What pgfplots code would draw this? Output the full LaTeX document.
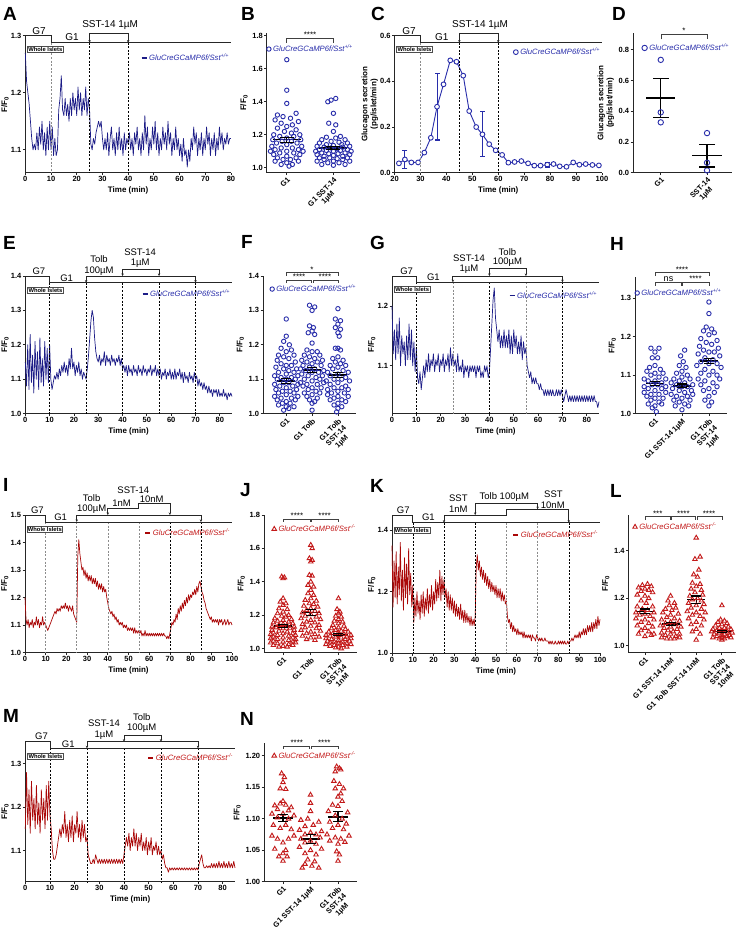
\documentclass[border=0pt]{standalone}
\usepackage{pgfplots}
\pgfplotsset{compat=1.18}
\usepackage{fontspec}
\setmainfont{Liberation Sans}
\usetikzlibrary{arrows.meta}
\definecolor{navy}{RGB}{28,28,135}
\definecolor{navyM}{RGB}{40,45,170}
\definecolor{dred}{RGB}{170,8,8}
\definecolor{lred}{RGB}{195,25,25}
\tikzset{
 stim/.style={line width=0.8pt, black!85},
 arr/.style={<->, >={Stealth[length=2.6pt,width=2.4pt]}},
 dsh/.style={line width=0.6pt, dash pattern=on 2pt off 1.6pt, black},
 dshg/.style={line width=0.6pt, dash pattern=on 2pt off 1.6pt, black!45},
 lab/.style={font=\fontsize{10}{11}\selectfont, inner sep=0pt},
 labs/.style={font=\fontsize{9.5}{10}\selectfont, inner sep=0pt},
 wi/.style={draw=black!70, line width=0.6pt, font=\bfseries\fontsize{5.8}{6}\selectfont, inner sep=1pt, anchor=north west, fill=white},
 brk/.style={line width=0.6pt, black!75},
 st/.style={font=\fontsize{8}{8}\selectfont, inner sep=0.4pt, anchor=south},
 pl/.style={font=\bfseries\fontsize{19}{19}\selectfont, inner sep=0pt, anchor=base west},
}
\pgfplotsset{
 gp/.style={scale only axis, anchor=south west, clip=false,
   axis lines=left, axis line style={-, line width=0.8pt, black!85},
   tick align=outside, tick pos=left, major tick length=2.5pt,
   tick style={black!85, line width=0.8pt},
   ticklabel style={font=\bfseries\fontsize{7.5}{8}\selectfont, inner sep=1.2pt},
   /pgf/number format/assume math mode=true,
   label style={font=\bfseries\fontsize{8}{9}\selectfont},
   legend cell align=left,
   legend style={draw=none, fill=none, inner sep=0pt, outer sep=0pt,
     font=\itshape\fontsize{7.7}{8}\selectfont}},
 yp1/.style={yticklabel style={/pgf/number format/.cd, fixed, fixed zerofill, precision=1}},
 trace/.style={gp, yp1, xlabel={Time (min)}, ylabel={F/F\textsubscript{0}},
   ylabel style={yshift=-2.5pt},
   legend image code/.code={\draw[##1, line width=1.3pt] (0pt,0pt) -- (5pt,0pt);}},
 swarm/.style={gp, ylabel={F/F\textsubscript{0}},
   xticklabel style={rotate=45, anchor=north east, align=center}},
 mkimg/.style={legend image code/.code={\draw[##1] plot coordinates {(2.5pt,0pt)};}},
 bpts/.style={only marks, mark=o, mark size=2.2pt, navyM, line width=0.9pt, mkimg},
 rpts/.style={only marks, mark=triangle, mark size=2.6pt, lred, line width=0.9pt, mkimg},
 meanl/.style={black, line width=1.5pt, forget plot},
 seml/.style={black, line width=1.1pt, mark=-, mark size=5pt, mark options={solid, line width=1.1pt}, forget plot},
 trb/.style={navy, line width=0.7pt, line join=round},
 trr/.style={dred, line width=0.7pt, line join=round},
}
\begin{document}
\begin{tikzpicture}
\fill[white] (0pt,0pt) rectangle (740pt,-931pt);
\useasboundingbox (0pt,0pt) rectangle (740pt,-931pt);

% ---------------- A ----------------
\begin{axis}[trace, at={(25.3pt,-172.7pt)}, width=205.7pt, height=137pt,
 xmin=0, xmax=80, ymin=1.06, ymax=1.3, xtick={0,10,...,80}, ytick={1.1,1.2,1.3},
 legend style={at={(1,0.837)}, anchor=east, text=navyM}]
\addplot[trb] table[x expr=\coordindex*0.5, y index=0, header=false, row sep=\\]{
1.27\\1.22\\1.20\\1.18\\1.15\\1.12\\1.10\\1.11\\1.10\\1.13\\
1.10\\1.14\\1.11\\1.15\\1.10\\1.13\\1.09\\1.14\\1.10\\1.15\\
1.10\\1.14\\1.09\\1.12\\1.09\\1.10\\1.17\\1.19\\1.23\\1.17\\
1.16\\1.19\\1.16\\1.18\\1.15\\1.19\\1.16\\1.20\\1.17\\1.19\\
1.16\\1.21\\1.17\\1.20\\1.16\\1.19\\1.17\\1.21\\1.16\\1.19\\
1.17\\1.11\\1.10\\1.12\\1.11\\1.13\\1.14\\1.15\\1.14\\1.15\\
1.12\\1.10\\1.12\\1.10\\1.13\\1.09\\1.12\\1.14\\1.10\\1.12\\
1.09\\1.13\\1.10\\1.14\\1.10\\1.12\\1.09\\1.13\\1.10\\1.12\\
1.11\\1.13\\1.10\\1.12\\1.09\\1.13\\1.11\\1.14\\1.10\\1.12\\
1.09\\1.13\\1.10\\1.16\\1.11\\1.14\\1.09\\1.12\\1.10\\1.14\\
1.11\\1.15\\1.10\\1.13\\1.09\\1.12\\1.10\\1.14\\1.11\\1.13\\
1.10\\1.15\\1.11\\1.13\\1.09\\1.12\\1.10\\1.14\\1.10\\1.12\\
1.09\\1.11\\1.08\\1.12\\1.09\\1.10\\1.07\\1.10\\1.08\\1.12\\
1.10\\1.14\\1.11\\1.13\\1.09\\1.12\\1.10\\1.13\\1.09\\1.12\\
1.10\\1.14\\1.11\\1.13\\1.09\\1.12\\1.10\\1.13\\1.09\\1.12\\
1.10\\1.14\\1.11\\1.13\\1.10\\1.12\\1.11\\1.13\\1.11\\1.12\\
1.12\\
};
\addlegendentry{GluCreGCaMP6f/Sst\textsuperscript{+/+}}
\end{axis}
\begin{scope}[shift={(25.3pt,-35.7pt)}, x=2.571pt, y=1pt]
 \draw[dshg] (10,-7) -- (10,-137);
 \draw[dsh] (25,-7) -- (25,-137);
 \draw[dsh] (40,-7) -- (40,-137);
 \draw[stim] (0,0) -- (10,0) -- (10,-7) -- (80,-7);
 \draw[stim, arr] (25,-7) -- (25,2.4) -- (40,2.4) -- (40,-7);
 \node[lab] at (5.3,4.7) {G7};
 \node[lab] at (18.2,-1.5) {G1};
 \node[lab] at (33,10.7) {SST-14 1µM};
 \node[wi] at (0.7,-10.3) {Whole Islets};
\end{scope}

% ---------------- B ----------------
\begin{axis}[swarm, at={(266.7pt,-172.7pt)}, width=93.3pt, height=139.4pt,
 xmin=-0.43, xmax=1.57, ymin=0.97, ymax=1.815,
 xtick={0,1}, xticklabels={G1,{G1 SST-14\\1µM}},
 ytick={1.0,1.2,1.4,1.6,1.8}, yp1,
 legend style={at={(0,0.887)}, anchor=west, text=navyM}]
\addplot[bpts] coordinates {(0,1.655) (0,1.47) (0,1.39) (0.2,1.33) (-0.2,1.32) (-0.08,1.31) (0.08,1.30) (-0.25,1.29) (0.25,1.28) (-0.12,1.27) (0.12,1.26) (0,1.25) (-0.2,1.24) (0.2,1.23) (-0.05,1.22) (0.1,1.21) (-0.28,1.20) (0.28,1.20) (-0.15,1.19) (0.15,1.19) (0,1.18) (-0.3,1.17) (0.3,1.17) (-0.1,1.16) (0.1,1.16) (-0.22,1.15) (0.22,1.15) (0,1.14) (-0.32,1.13) (0.32,1.13) (-0.12,1.12) (0.12,1.12) (-0.25,1.11) (0.25,1.11) (0,1.10) (-0.35,1.10) (0.35,1.10) (-0.15,1.09) (0.15,1.09) (-0.28,1.08) (0.28,1.08) (0,1.07) (-0.2,1.06) (0.2,1.06) (-0.08,1.05) (0.08,1.05) (-0.25,1.04) (0.25,1.04) (0,1.03) (-0.12,1.02) (0.12,1.02) (0.05,1.01)};
\addlegendentry{GluCreGCaMP6f/Sst\textsuperscript{+/+}}
\addplot[bpts, forget plot] coordinates {(1.05,1.42) (0.95,1.41) (0.88,1.40) (1,1.33) (0.9,1.27) (1.05,1.26) (1,1.22) (1.15,1.19) (0.85,1.185) (1.05,1.18) (0.75,1.17) (1.25,1.17) (0.95,1.16) (1.12,1.155) (0.7,1.15) (1.3,1.15) (0.85,1.14) (1.18,1.14) (1,1.135) (0.65,1.13) (1.35,1.13) (0.8,1.125) (1.2,1.125) (0.95,1.12) (1.08,1.115) (0.7,1.11) (1.3,1.11) (0.85,1.105) (1.15,1.105) (1,1.10) (0.62,1.10) (1.38,1.10) (0.75,1.09) (1.25,1.09) (0.9,1.085) (1.1,1.085) (0.65,1.08) (1.35,1.08) (1,1.075) (0.8,1.07) (1.2,1.07) (0.7,1.06) (1.3,1.06) (0.92,1.06) (1.08,1.055) (0.8,1.05) (1.2,1.05) (0.65,1.04) (1.35,1.04) (1,1.04) (0.88,1.03) (1.12,1.03) (0.75,1.02) (1.25,1.02) (1,1.015)};
\addplot[meanl] coordinates {(-0.3,1.17) (0.3,1.17)};
\addplot[seml, mark size=7pt] coordinates {(0,1.155) (0,1.185)};
\addplot[meanl] coordinates {(0.7,1.12) (1.3,1.12)};
\addplot[seml, mark size=7pt] coordinates {(1,1.11) (1,1.13)};
\end{axis}
\begin{scope}[shift={(286.7pt,-33.3pt)}, x=46.6pt, y=1pt]
 \draw[brk] (0,-9.7) -- (0,-4.7) -- (1,-4.7) -- (1,-9.7);
 \node[st] at (0.5,-4.7) {****};
\end{scope}

% ---------------- C ----------------
\begin{axis}[trace, at={(394.5pt,-172.7pt)}, width=207.5pt, height=137pt,
 xmin=20, xmax=100, ymin=0, ymax=0.6, xtick={20,30,...,100}, ytick={0,0.2,0.4,0.6},
 ylabel={Glucagon secretion\\(pg/islet/min)}, ylabel style={align=center},
 legend style={at={(1,0.88)}, anchor=east, text=navyM}]
\addplot[navyM, line width=0.9pt, mark=*, mark size=2.4pt, mark options={fill=white, draw=navyM, line width=0.9pt}, mkimg] coordinates {
(21.7,0.041) (24,0.058) (26.5,0.045) (29.1,0.045) (31.5,0.088) (34,0.153) (36.4,0.289) (38.9,0.387) (41.5,0.492) (43.9,0.486) (46.5,0.425) (48.8,0.27) (51.5,0.2) (53.9,0.168) (56.5,0.125) (59,0.098) (61.5,0.078) (63.9,0.044) (66.3,0.047) (68.9,0.051) (71.5,0.041) (73.9,0.031) (76.3,0.031) (78.9,0.035) (81.3,0.038) (83.7,0.028) (86.3,0.026) (88.9,0.045) (91.3,0.035) (93.7,0.038) (96.3,0.034) (98.8,0.032)};
\addlegendentry{GluCreGCaMP6f/Sst\textsuperscript{+/+}}
\addplot[seml, navyM, line width=0.9pt, mark size=2.5pt] coordinates {(24,0.019) (24,0.096)};
\addplot[seml, navyM, line width=0.9pt, mark size=2.5pt] coordinates {(36.4,0.143) (36.4,0.435)};
\addplot[seml, navyM, line width=0.9pt, mark size=2.5pt] coordinates {(53.9,0.07) (53.9,0.267)};
\addplot[seml, navyM, line width=0.9pt, mark size=2.5pt] coordinates {(78.9,0.025) (78.9,0.045)};
\end{axis}
\begin{scope}[shift={(342.62pt,-35.7pt)}, x=2.594pt, y=1pt]
 \draw[dshg] (30,-7) -- (30,-137);
 \draw[dsh] (45,-7) -- (45,-137);
 \draw[dsh] (60,-7) -- (60,-137);
 \draw[stim] (20,0) -- (30,0) -- (30,-7) -- (100,-7);
 \draw[stim, arr] (45,-7) -- (45,2.4) -- (60,2.4) -- (60,-7);
 \node[lab] at (25.6,4.7) {G7};
 \node[lab] at (38.2,-1.5) {G1};
 \node[lab] at (53,10.7) {SST-14 1µM};
 \node[wi] at (20.7,-10.3) {Whole Islets};
\end{scope}

% ---------------- D ----------------
\begin{axis}[swarm, at={(633pt,-172.7pt)}, width=99pt, height=139.4pt,
 xmin=-0.6, xmax=1.54, ymin=0, ymax=0.908,
 xtick={0,1}, xticklabels={G1,{SST-14\\1µM}},
 ytick={0,0.2,0.4,0.6,0.8}, yp1,
 ylabel={Glucagon secretion\\(pg/islet/min)}, ylabel style={align=center},
 legend style={at={(0.09,0.895)}, anchor=west, text=navyM}]
\addplot[bpts, mark size=2.7pt] coordinates {(0,0.735) (0,0.393) (0,0.328)};
\addlegendentry{GluCreGCaMP6f/Sst\textsuperscript{+/+}}
\addplot[bpts, mark size=2.7pt, forget plot] coordinates {(1,0.258) (1,0.065) (1,0.015)};
\addplot[meanl] coordinates {(-0.315,0.487) (0.315,0.487)};
\addplot[seml, mark size=8pt] coordinates {(0,0.36) (0,0.614)};
\addplot[meanl] coordinates {(0.685,0.112) (1.315,0.112)};
\addplot[seml, mark size=8pt] coordinates {(1,0.037) (1,0.185)};
\end{axis}
\begin{scope}[shift={(661pt,-33.3pt)}, x=46pt, y=1pt]
 \draw[brk] (0,-6) -- (0,-1) -- (1,-1) -- (1,-6);
 \node[st] at (0.5,-1) {*};
\end{scope}

% ---------------- E ----------------
\begin{axis}[trace, at={(25.3pt,-413.6pt)}, width=206.7pt, height=137.6pt,
 xmin=0, xmax=85, ymin=1.0, ymax=1.4, xtick={0,10,...,80}, ytick={1.0,1.1,1.2,1.3,1.4},
 legend style={at={(1,0.87)}, anchor=east, text=navyM}]
\addplot[trb] table[x expr=\coordindex*0.5, y index=0, header=false, row sep=\\]{
1.15\\1.08\\1.20\\1.07\\1.23\\1.09\\1.17\\1.06\\1.21\\1.10\\
1.18\\1.07\\1.22\\1.09\\1.16\\1.08\\1.21\\1.10\\1.19\\1.09\\
1.20\\1.10\\1.07\\1.09\\1.11\\1.10\\1.12\\1.10\\1.13\\1.11\\
1.14\\1.12\\1.15\\1.12\\1.14\\1.11\\1.16\\1.13\\1.19\\1.13\\
1.15\\1.11\\1.14\\1.12\\1.15\\1.11\\1.13\\1.10\\1.12\\1.11\\
1.10\\1.13\\1.17\\1.22\\1.27\\1.30\\1.28\\1.22\\1.18\\1.16\\
1.15\\1.17\\1.14\\1.16\\1.15\\1.18\\1.14\\1.17\\1.15\\1.16\\
1.14\\1.17\\1.15\\1.16\\1.14\\1.16\\1.15\\1.17\\1.14\\1.16\\
1.13\\1.14\\1.12\\1.14\\1.11\\1.14\\1.12\\1.13\\1.11\\1.14\\
1.12\\1.13\\1.11\\1.14\\1.12\\1.13\\1.11\\1.14\\1.12\\1.13\\
1.11\\1.13\\1.12\\1.14\\1.11\\1.13\\1.12\\1.14\\1.11\\1.13\\
1.11\\1.13\\1.10\\1.12\\1.11\\1.13\\1.10\\1.12\\1.11\\1.13\\
1.10\\1.12\\1.10\\1.13\\1.10\\1.12\\1.11\\1.13\\1.10\\1.12\\
1.09\\1.12\\1.10\\1.11\\1.09\\1.12\\1.10\\1.11\\1.09\\1.12\\
1.10\\1.11\\1.08\\1.10\\1.08\\1.09\\1.07\\1.09\\1.07\\1.08\\
1.06\\1.08\\1.06\\1.07\\1.05\\1.07\\1.06\\1.07\\1.05\\1.07\\
1.05\\1.06\\1.05\\1.07\\1.05\\1.06\\1.04\\1.06\\1.05\\1.06\\
1.05\\
};
\addlegendentry{GluCreGCaMP6f/Sst\textsuperscript{+/+}}
\end{axis}
\begin{scope}[shift={(25.3pt,-276pt)}, x=2.432pt, y=1pt]
 \foreach \t in {10,25,40,55,70} {\draw[dsh] (\t,-6.7) -- (\t,-137.6);}
 \draw[stim] (0,0) -- (10,0) -- (10,-6.7) -- (85,-6.7);
 \draw[stim, arr] (25,-6.7) -- (25,0) -- (70,0) -- (70,-6.7);
 \draw[stim, arr] (40,0) -- (40,6.7) -- (55,6.7) -- (55,0);
 \node[labs] at (5.6,5) {G7};
 \node[labs] at (17,-2) {G1};
 \node[labs] at (30.3,17) {Tolb};
 \node[labs] at (30.3,5.3) {100µM};
 \node[labs] at (47.2,24) {SST-14};
 \node[labs] at (47.2,13) {1µM};
 \node[wi] at (0.8,-10.5) {Whole Islets};
\end{scope}

% ---------------- F ----------------
\begin{axis}[swarm, at={(263pt,-413.6pt)}, width=93pt, height=137.6pt,
 xmin=-0.9, xmax=2.7, ymin=1.0, ymax=1.4,
 xtick={0,1,2}, xticklabels={G1,G1 Tolb,{G1 Tolb\\SST-14\\1µM}},
 ytick={1.0,1.1,1.2,1.3,1.4}, yp1,
 legend style={at={(0.075,0.905)}, anchor=west, text=navyM}]
\addplot[bpts] coordinates {(0,1.275) (0,1.225) (-0.1,1.21) (0.12,1.20) (-0.2,1.19) (0.2,1.185) (0,1.18) (-0.3,1.17) (0.3,1.17) (-0.1,1.165) (0.1,1.16) (-0.35,1.155) (0.35,1.15) (-0.2,1.145) (0.2,1.14) (0,1.14) (-0.4,1.135) (0.4,1.13) (-0.1,1.13) (0.1,1.125) (-0.3,1.12) (0.3,1.12) (0,1.115) (-0.45,1.11) (0.45,1.11) (-0.2,1.105) (0.2,1.105) (-0.35,1.10) (0.35,1.10) (0,1.10) (-0.1,1.09) (0.1,1.09) (-0.45,1.085) (0.45,1.085) (-0.25,1.08) (0.25,1.08) (0,1.075) (-0.4,1.07) (0.4,1.07) (-0.15,1.065) (0.15,1.065) (-0.3,1.06) (0.3,1.06) (0,1.055) (-0.45,1.05) (0.45,1.05) (-0.2,1.045) (0.2,1.045) (-0.35,1.04) (0.35,1.04) (0,1.035) (-0.15,1.03) (0.15,1.03) (-0.3,1.025) (0.3,1.02) (0,1.02) (-0.1,1.01) (0.1,1.015)};
\addlegendentry{GluCreGCaMP6f/Sst\textsuperscript{+/+}}
\addplot[bpts, forget plot] coordinates {(0.9,1.315) (1.1,1.31) (1,1.30) (0.9,1.255) (1.05,1.25) (1,1.24) (0.85,1.235) (1.1,1.23) (1,1.205) (0.8,1.185) (1.2,1.18) (1,1.18) (0.7,1.17) (1.3,1.17) (0.9,1.165) (1.1,1.16) (0.6,1.155) (1.4,1.155) (0.8,1.15) (1.2,1.15) (1,1.145) (0.65,1.14) (1.35,1.14) (0.9,1.135) (1.1,1.13) (0.55,1.13) (1.45,1.125) (0.75,1.125) (1.25,1.12) (1,1.12) (0.6,1.115) (1.4,1.11) (0.85,1.11) (1.15,1.105) (0.7,1.10) (1.3,1.10) (1,1.095) (0.55,1.09) (1.45,1.09) (0.8,1.085) (1.2,1.085) (0.65,1.08) (1.35,1.075) (1,1.075) (0.85,1.07) (1.15,1.065) (0.7,1.06) (1.3,1.06) (1,1.055) (0.8,1.05) (1.2,1.045) (0.9,1.04) (1.1,1.035) (1,1.03) (1,1.01)};
\addplot[bpts, forget plot] coordinates {(2,1.305) (1.9,1.275) (2.1,1.27) (2,1.26) (1.9,1.25) (2.1,1.245) (2,1.235) (2.05,1.225) (2,1.19) (1.9,1.19) (2.1,1.185) (2,1.165) (1.8,1.16) (2.2,1.155) (1.9,1.15) (2.1,1.145) (1.7,1.14) (2.3,1.14) (2,1.135) (1.8,1.13) (2.2,1.125) (1.6,1.12) (2.4,1.12) (2,1.115) (1.7,1.11) (2.3,1.105) (1.85,1.10) (2.15,1.10) (1.55,1.095) (2.45,1.095) (2,1.09) (1.7,1.085) (2.3,1.08) (1.85,1.075) (2.15,1.075) (1.6,1.07) (2.4,1.07) (2,1.065) (1.75,1.06) (2.25,1.06) (1.6,1.055) (2.4,1.05) (2,1.05) (1.85,1.045) (2.15,1.04) (1.7,1.04) (2.3,1.035) (2,1.03) (1.85,1.025) (2.15,1.02) (2,1.015) (1.95,1.005)};
\addplot[meanl] coordinates {(-0.35,1.095) (0.35,1.095)};
\addplot[seml] coordinates {(0,1.088) (0,1.102)};
\addplot[meanl] coordinates {(0.65,1.127) (1.35,1.127)};
\addplot[seml] coordinates {(1,1.119) (1,1.135)};
\addplot[meanl] coordinates {(1.65,1.112) (2.35,1.112)};
\addplot[seml] coordinates {(2,1.104) (2,1.12)};
\end{axis}
\begin{scope}[shift={(286.2pt,-276pt)}, x=25.83pt, y=1pt]
 \draw[brk] (0,0) -- (0,3.3) -- (2,3.3) -- (2,0);
 \node[st] at (1,3.3) {*};
 \draw[brk] (0,-6.7) -- (0,-4) -- (0.97,-4) -- (0.97,-6.7);
 \draw[brk] (1.03,-6.7) -- (1.03,-4) -- (2,-4) -- (2,-6.7);
 \node[st] at (0.5,-4) {****};
 \node[st] at (1.5,-4) {****};
\end{scope}

% ---------------- G ----------------
\begin{axis}[trace, at={(392pt,-413.6pt)}, width=207pt, height=137.6pt,
 xmin=0, xmax=85, ymin=1.02, ymax=1.25, xtick={0,10,...,80}, ytick={1.1,1.2},
 legend style={at={(1,0.857)}, anchor=east, text=navyM}]
\addplot[trb] table[x expr=\coordindex*0.5, y index=0, header=false, row sep=\\]{
1.20\\1.12\\1.16\\1.11\\1.17\\1.12\\1.18\\1.10\\1.15\\1.12\\
1.14\\1.10\\1.15\\1.11\\1.17\\1.11\\1.16\\1.10\\1.14\\1.09\\
1.13\\1.08\\1.07\\1.09\\1.06\\1.08\\1.10\\1.08\\1.11\\1.09\\
1.12\\1.09\\1.11\\1.10\\1.12\\1.09\\1.11\\1.10\\1.12\\1.09\\
1.11\\1.10\\1.12\\1.09\\1.11\\1.10\\1.12\\1.09\\1.13\\1.10\\
1.12\\1.10\\1.11\\1.09\\1.12\\1.09\\1.10\\1.09\\1.11\\1.08\\
1.10\\1.09\\1.10\\1.08\\1.10\\1.09\\1.10\\1.09\\1.10\\1.08\\
1.10\\1.09\\1.10\\1.08\\1.09\\1.08\\1.10\\1.09\\1.10\\1.08\\
1.09\\1.13\\1.17\\1.21\\1.23\\1.18\\1.16\\1.14\\1.16\\1.13\\
1.15\\1.13\\1.16\\1.13\\1.15\\1.13\\1.16\\1.12\\1.15\\1.12\\
1.16\\1.13\\1.15\\1.12\\1.14\\1.12\\1.15\\1.11\\1.14\\1.12\\
1.13\\1.10\\1.09\\1.08\\1.09\\1.07\\1.08\\1.07\\1.08\\1.07\\
1.07\\1.06\\1.07\\1.06\\1.06\\1.05\\1.06\\1.05\\1.06\\1.05\\
1.06\\1.05\\1.06\\1.05\\1.05\\1.06\\1.05\\1.06\\1.05\\1.06\\
1.05\\1.04\\1.05\\1.06\\1.05\\1.04\\1.05\\1.04\\1.05\\1.04\\
1.05\\1.04\\1.05\\1.04\\1.05\\1.04\\1.05\\1.04\\1.05\\1.04\\
1.05\\1.04\\1.05\\1.04\\1.05\\1.04\\1.05\\1.04\\1.04\\1.03\\
1.04\\
};
\addlegendentry{GluCreGCaMP6f/Sst\textsuperscript{+/+}}
\end{axis}
\begin{scope}[shift={(392pt,-276pt)}, x=2.435pt, y=1pt]
 \draw[dsh] (10,-6.3) -- (10,-137.6);
 \draw[dshg] (25,-6.3) -- (25,-137.6);
 \draw[dsh] (40,-6.3) -- (40,-137.6);
 \draw[dshg] (55,-6.3) -- (55,-137.6);
 \draw[dsh] (70,-6.3) -- (70,-137.6);
 \draw[stim] (0,0) -- (10,0) -- (10,-6.3) -- (85,-6.3);
 \draw[stim, arr] (25,-6.3) -- (25,0) -- (70,0) -- (70,-6.3);
 \draw[stim, arr] (40,0) -- (40,7.7) -- (55,7.7) -- (55,0);
 \node[labs] at (6,4.3) {G7};
 \node[labs] at (17,-1.7) {G1};
 \node[labs] at (31.6,17.7) {SST-14};
 \node[labs] at (31.6,6.7) {1µM};
 \node[labs] at (47.4,24.3) {Tolb};
 \node[labs] at (47.4,14.3) {100µM};
 \node[wi] at (0.8,-10) {Whole Islets};
\end{scope}

% ---------------- H ----------------
\begin{axis}[swarm, at={(635pt,-413.6pt)}, width=92pt, height=136.6pt,
 xmin=-0.74, xmax=2.67, ymin=1.0, ymax=1.355,
 xtick={0,1,2}, xticklabels={G1,G1 SST-14 1µM,{G1 Tolb\\SST-14\\1µM}},
 ytick={1.0,1.1,1.2,1.3}, yp1,
 legend style={at={(0,0.883)}, anchor=west, text=navyM}]
\addplot[bpts] coordinates {(-0.15,1.17) (0.15,1.17) (0,1.16) (-0.1,1.145) (0.1,1.145) (0,1.125) (-0.2,1.12) (0.2,1.115) (-0.3,1.11) (0.3,1.105) (0,1.105) (-0.15,1.10) (0.15,1.095) (-0.4,1.09) (0.4,1.09) (0,1.085) (-0.25,1.085) (0.25,1.08) (-0.1,1.075) (0.1,1.075) (-0.4,1.07) (0.4,1.07) (-0.25,1.065) (0.25,1.065) (0,1.06) (-0.4,1.055) (0.4,1.055) (-0.15,1.05) (0.15,1.05) (-0.3,1.045) (0.3,1.04) (0,1.04) (-0.15,1.035) (0.15,1.03) (-0.25,1.025) (0.25,1.025) (0,1.02) (-0.1,1.015) (0.05,1.005)};
\addlegendentry{GluCreGCaMP6f/Sst\textsuperscript{+/+}}
\addplot[bpts, forget plot] coordinates {(1.1,1.165) (0.95,1.15) (1.05,1.135) (0.9,1.125) (1.15,1.12) (1,1.11) (0.8,1.105) (1.2,1.10) (1,1.095) (0.7,1.09) (1.3,1.09) (0.9,1.085) (1.1,1.08) (0.6,1.08) (1.4,1.075) (0.8,1.075) (1.2,1.07) (1,1.07) (0.65,1.065) (1.35,1.06) (0.9,1.06) (1.1,1.055) (0.6,1.05) (1.4,1.05) (0.8,1.045) (1.2,1.045) (1,1.04) (0.7,1.035) (1.3,1.035) (0.9,1.03) (1.1,1.025) (0.75,1.02) (1.25,1.02) (1,1.01)};
\addplot[bpts, forget plot] coordinates {(2,1.29) (2,1.26) (1.9,1.225) (2.1,1.22) (1.8,1.215) (2.2,1.21) (2,1.205) (1.7,1.195) (2.3,1.19) (1.9,1.185) (2.1,1.18) (1.65,1.175) (2.35,1.17) (1.8,1.165) (2.2,1.16) (2,1.16) (1.6,1.155) (2.4,1.15) (1.85,1.145) (2.15,1.14) (1.7,1.135) (2.3,1.13) (2,1.13) (1.55,1.125) (2.45,1.12) (1.85,1.115) (2.15,1.11) (1.7,1.105) (2.3,1.10) (2,1.10) (1.6,1.09) (2.4,1.09) (1.85,1.085) (2.15,1.08) (1.7,1.075) (2.3,1.07) (2,1.065) (1.8,1.06) (2.2,1.055) (2,1.045) (1.85,1.035) (2.1,1.03) (2,1.02)};
\addplot[meanl] coordinates {(-0.33,1.078) (0.33,1.078)};
\addplot[seml] coordinates {(0,1.073) (0,1.083)};
\addplot[meanl] coordinates {(0.67,1.072) (1.33,1.072)};
\addplot[seml] coordinates {(1,1.067) (1,1.077)};
\addplot[meanl] coordinates {(1.67,1.137) (2.33,1.137)};
\addplot[seml] coordinates {(2,1.13) (2,1.144)};
\end{axis}
\begin{scope}[shift={(655pt,-277pt)}, x=26.98pt, y=1pt]
 \draw[brk] (0,1) -- (0,4.3) -- (2,4.3) -- (2,1);
 \node[st] at (1,4.3) {****};
 \draw[brk] (0,-8.7) -- (0,-5.3) -- (0.97,-5.3) -- (0.97,-8.7);
 \draw[brk] (1.03,-8.7) -- (1.03,-5.3) -- (2,-5.3) -- (2,-8.7);
 \node[st, font=\fontsize{9}{9}\selectfont] at (0.5,-5.3) {ns};
 \node[st] at (1.5,-5.3) {****};
\end{scope}

% ---------------- I ----------------
\begin{axis}[trace, at={(25pt,-652.5pt)}, width=207pt, height=137.5pt,
 xmin=0, xmax=100, ymin=1.0, ymax=1.5, xtick={0,10,...,100}, ytick={1.0,1.1,1.2,1.3,1.4,1.5},
 legend style={at={(1,0.87)}, anchor=east, text=lred}]
\addplot[trr] table[x expr=\coordindex*0.5, y index=0, header=false, row sep=\\]{
1.20\\1.12\\1.10\\1.12\\1.09\\1.11\\1.10\\1.12\\1.09\\1.11\\
1.10\\1.13\\1.10\\1.12\\1.09\\1.11\\1.10\\1.13\\1.10\\1.11\\
1.10\\1.09\\1.08\\1.09\\1.10\\1.11\\1.12\\1.13\\1.14\\1.15\\
1.14\\1.16\\1.15\\1.16\\1.15\\1.17\\1.16\\1.17\\1.16\\1.18\\
1.16\\1.17\\1.15\\1.17\\1.16\\1.15\\1.17\\1.14\\1.13\\1.12\\
1.11\\1.35\\1.41\\1.36\\1.33\\1.30\\1.31\\1.28\\1.30\\1.27\\
1.29\\1.26\\1.28\\1.26\\1.28\\1.25\\1.27\\1.25\\1.27\\1.24\\
1.26\\1.23\\1.25\\1.23\\1.25\\1.22\\1.24\\1.22\\1.23\\1.20\\
1.18\\1.16\\1.15\\1.14\\1.15\\1.13\\1.14\\1.12\\1.13\\1.11\\
1.12\\1.10\\1.11\\1.10\\1.11\\1.09\\1.10\\1.09\\1.10\\1.08\\
1.09\\1.08\\1.09\\1.08\\1.09\\1.07\\1.09\\1.07\\1.08\\1.07\\
1.08\\1.07\\1.08\\1.06\\1.07\\1.06\\1.08\\1.06\\1.07\\1.06\\
1.07\\1.06\\1.07\\1.06\\1.07\\1.06\\1.07\\1.06\\1.07\\1.06\\
1.07\\1.06\\1.07\\1.06\\1.07\\1.06\\1.06\\1.05\\1.06\\1.05\\
1.07\\1.09\\1.11\\1.10\\1.12\\1.11\\1.14\\1.12\\1.16\\1.14\\
1.17\\1.15\\1.18\\1.16\\1.19\\1.17\\1.20\\1.18\\1.21\\1.19\\
1.21\\1.20\\1.22\\1.21\\1.23\\1.21\\1.24\\1.22\\1.25\\1.26\\
1.24\\1.22\\1.21\\1.19\\1.18\\1.16\\1.15\\1.14\\1.13\\1.12\\
1.13\\1.11\\1.12\\1.11\\1.12\\1.11\\1.12\\1.10\\1.12\\1.11\\
1.12\\1.10\\1.11\\1.12\\1.10\\1.11\\1.12\\1.10\\1.11\\1.11\\
1.10\\
};
\addlegendentry{GluCreGCaMP6f/Sst\textsuperscript{-/-}}
\end{axis}
\begin{scope}[shift={(25pt,-515pt)}, x=2.07pt, y=1pt]
 \foreach \t in {10,25,40,55} {\draw[dshg] (\t,-7) -- (\t,-137.5);}
 \foreach \t in {70,85} {\draw[dsh] (\t,-7) -- (\t,-137.5);}
 \draw[stim] (0,0) -- (10,0) -- (10,-7) -- (100,-7);
 \draw[stim, arr] (25,-7) -- (25,0) -- (85,0) -- (85,-7);
 \draw[stim, arr] (40,0) -- (40,6.7) -- (55,6.7) -- (55,11.7) -- (70,11.7) -- (70,0);
 \node[labs] at (6,5) {G7};
 \node[labs] at (17.2,-2.2) {G1};
 \node[labs] at (32.2,16.7) {Tolb};
 \node[labs] at (32.2,5.7) {100µM};
 \node[labs] at (52.3,24.3) {SST-14};
 \node[labs] at (46.7,11.7) {1nM};
 \node[labs] at (61.2,16) {10nM};
 \node[wi] at (0.8,-11) {Whole Islets};
\end{scope}

% ---------------- J ----------------
\begin{axis}[swarm, at={(264pt,-652.5pt)}, width=93pt, height=137.5pt,
 xmin=-0.69, xmax=2.67, ymin=0.976, ymax=1.8,
 xtick={0,1,2}, xticklabels={G1,G1 Tolb,{G1 Tolb\\SST-14\\1nM}},
 ytick={1.0,1.2,1.4,1.6,1.8}, yp1,
 legend style={at={(0.086,0.898)}, anchor=west, text=lred}]
\addplot[rpts] coordinates {(-0.05,1.43) (0.05,1.425) (0,1.42) (0,1.30) (-0.1,1.28) (0.1,1.27) (0,1.26) (-0.15,1.24) (0.15,1.235) (0,1.22) (-0.2,1.21) (0.2,1.20) (-0.05,1.195) (0.1,1.19) (-0.3,1.18) (0.3,1.175) (0,1.17) (-0.2,1.165) (0.2,1.16) (-0.35,1.155) (0.35,1.15) (0,1.145) (-0.15,1.14) (0.15,1.135) (-0.4,1.13) (0.4,1.13) (-0.25,1.125) (0.25,1.12) (0,1.12) (-0.4,1.11) (0.4,1.11) (-0.15,1.105) (0.15,1.10) (-0.35,1.095) (0.35,1.09) (0,1.09) (-0.45,1.085) (0.45,1.08) (-0.2,1.08) (0.2,1.075) (-0.35,1.07) (0.35,1.065) (0,1.065) (-0.45,1.06) (0.45,1.055) (-0.2,1.055) (0.2,1.05) (-0.35,1.045) (0.35,1.04) (0,1.04) (-0.45,1.035) (0.45,1.035) (-0.2,1.03) (0.2,1.025) (-0.35,1.02) (0.35,1.02) (0,1.015) (-0.15,1.01) (0.15,1.01)};
\addlegendentry{GluCreGCaMP6f/Sst\textsuperscript{-/-}}
\addplot[rpts, forget plot] coordinates {(1,1.62) (1.05,1.60) (0.95,1.54) (1.05,1.53) (1,1.52) (0.95,1.44) (1.05,1.435) (1,1.40) (0.9,1.38) (1.1,1.37) (1,1.35) (0.9,1.33) (1.1,1.32) (1,1.30) (0.8,1.29) (1.2,1.285) (0.95,1.27) (1.1,1.265) (0.75,1.255) (1.25,1.25) (1,1.24) (0.85,1.23) (1.15,1.225) (0.7,1.215) (1.3,1.21) (1,1.205) (0.8,1.195) (1.2,1.19) (0.65,1.18) (1.35,1.175) (1,1.17) (0.85,1.16) (1.15,1.155) (0.7,1.145) (1.3,1.14) (1,1.135) (0.8,1.125) (1.2,1.12) (0.65,1.11) (1.35,1.105) (1,1.10) (0.85,1.09) (1.15,1.085) (0.7,1.075) (1.3,1.07) (1,1.065) (0.85,1.055) (1.15,1.05)};
\addplot[rpts, forget plot] coordinates {(2,1.30) (1.95,1.235) (2.05,1.22) (2,1.21) (1.9,1.195) (2.1,1.19) (2,1.175) (1.85,1.165) (2.15,1.16) (2,1.15) (1.8,1.14) (2.2,1.135) (2,1.125) (1.75,1.12) (2.25,1.115) (1.9,1.11) (2.1,1.105) (1.65,1.10) (2.35,1.10) (2,1.095) (1.8,1.09) (2.2,1.085) (1.55,1.08) (2.45,1.08) (2,1.08) (1.7,1.075) (2.3,1.07) (1.9,1.07) (2.1,1.065) (1.55,1.06) (2.45,1.06) (1.75,1.055) (2.25,1.055) (2,1.05) (1.6,1.045) (2.4,1.045) (1.85,1.04) (2.15,1.04) (1.7,1.035) (2.3,1.03) (2,1.03) (1.55,1.025) (2.45,1.025) (1.85,1.02) (2.15,1.02) (1.7,1.015) (2.3,1.01) (2,1.01) (1.9,1.005) (2.1,1.0)};
\addplot[meanl] coordinates {(-0.33,1.135) (0.33,1.135)};
\addplot[seml] coordinates {(0,1.125) (0,1.145)};
\addplot[meanl] coordinates {(0.67,1.215) (1.33,1.215)};
\addplot[seml] coordinates {(1,1.198) (1,1.232)};
\addplot[meanl] coordinates {(1.67,1.085) (2.33,1.085)};
\addplot[seml] coordinates {(2,1.079) (2,1.091)};
\end{axis}
\begin{scope}[shift={(283.1pt,-515pt)}, x=27.68pt, y=1pt]
 \draw[brk] (0,-6.7) -- (0,-4) -- (0.97,-4) -- (0.97,-6.7);
 \draw[brk] (1.03,-6.7) -- (1.03,-4) -- (2,-4) -- (2,-6.7);
 \node[st] at (0.5,-4) {****};
 \node[st] at (1.5,-4) {****};
\end{scope}

% ---------------- K ----------------
\begin{axis}[trace, at={(392pt,-653.3pt)}, width=208pt, height=138.3pt,
 xmin=0, xmax=100, ymin=1.0, ymax=1.449, xtick={0,10,...,100}, ytick={1.0,1.2,1.4},
 legend style={at={(1,0.855)}, anchor=east, text=lred}]
\addplot[trr] table[x expr=\coordindex*0.5, y index=0, header=false, row sep=\\]{
1.35\\1.15\\1.30\\1.18\\1.33\\1.16\\1.28\\1.19\\1.36\\1.17\\
1.27\\1.14\\1.31\\1.18\\1.29\\1.16\\1.34\\1.19\\1.26\\1.15\\
1.22\\1.10\\1.18\\1.12\\1.20\\1.13\\1.17\\1.11\\1.19\\1.13\\
1.20\\1.12\\1.18\\1.14\\1.21\\1.13\\1.19\\1.15\\1.22\\1.14\\
1.20\\1.16\\1.24\\1.17\\1.23\\1.18\\1.27\\1.17\\1.25\\1.19\\
1.24\\1.18\\1.21\\1.15\\1.20\\1.14\\1.19\\1.14\\1.18\\1.13\\
1.17\\1.12\\1.16\\1.12\\1.15\\1.11\\1.16\\1.11\\1.14\\1.10\\
1.14\\1.10\\1.13\\1.10\\1.12\\1.09\\1.12\\1.09\\1.11\\1.09\\
1.12\\1.28\\1.32\\1.27\\1.30\\1.25\\1.28\\1.24\\1.27\\1.23\\
1.26\\1.22\\1.25\\1.21\\1.24\\1.20\\1.23\\1.20\\1.22\\1.19\\
1.22\\1.18\\1.21\\1.18\\1.21\\1.17\\1.20\\1.17\\1.19\\1.16\\
1.17\\1.12\\1.10\\1.11\\1.08\\1.10\\1.07\\1.09\\1.07\\1.08\\
1.06\\1.08\\1.06\\1.07\\1.06\\1.07\\1.05\\1.07\\1.05\\1.06\\
1.05\\1.06\\1.05\\1.06\\1.04\\1.06\\1.05\\1.05\\1.04\\1.06\\
1.05\\1.04\\1.05\\1.04\\1.05\\1.04\\1.04\\1.05\\1.04\\1.04\\
1.04\\1.03\\1.04\\1.03\\1.04\\1.03\\1.03\\1.04\\1.03\\1.03\\
1.04\\1.03\\1.04\\1.03\\1.04\\1.03\\1.04\\1.03\\1.03\\1.04\\
1.03\\1.04\\1.04\\1.05\\1.04\\1.05\\1.06\\1.05\\1.06\\1.05\\
1.07\\1.05\\1.07\\1.06\\1.08\\1.06\\1.08\\1.06\\1.09\\1.07\\
1.09\\1.07\\1.10\\1.07\\1.10\\1.08\\1.11\\1.08\\1.12\\1.09\\
1.11\\
};
\addlegendentry{GluCreGCaMP6f/Sst\textsuperscript{-/-}}
\end{axis}
\begin{scope}[shift={(392pt,-515pt)}, x=2.08pt, y=1pt]
 \foreach \t in {10,25,40,85} {\draw[dsh] (\t,-7.7) -- (\t,-138.3);}
 \foreach \t in {55,70} {\draw[dshg] (\t,-7.7) -- (\t,-138.3);}
 \draw[stim] (0,0) -- (10,0) -- (10,-7.7) -- (100,-7.7);
 \draw[stim, arr] (25,-7.7) -- (25,0) -- (55,0) -- (55,5.7) -- (85,5.7) -- (85,-7.7);
 \draw[stim, arr] (40,0) -- (40,11.7) -- (70,11.7) -- (70,5.7);
 \node[labs] at (5.4,5) {G7};
 \node[labs] at (17.5,-2.3) {G1};
 \node[labs] at (31.9,16.7) {SST};
 \node[labs] at (31.9,5.7) {1nM};
 \node[labs] at (54,18.3) {Tolb 100µM};
 \node[labs] at (77.6,21) {SST};
 \node[labs] at (77.3,10) {10nM};
 \node[wi] at (0.8,-11.7) {Whole Islets};
\end{scope}

% ---------------- L ----------------
\begin{axis}[swarm, at={(628.5pt,-652.5pt)}, width=107.5pt, height=137.5pt,
 xmin=-0.64, xmax=3.55, ymin=0.972, ymax=1.551,
 xtick={0,1,2,3}, xticklabels={G1,G1 SST-14 1nM,G1 Tolb SST-14 1nM,{G1 Tolb\\SST-14\\10nM}},
 ytick={1.0,1.2,1.4}, yp1,
 legend style={at={(0.04,0.913)}, anchor=west, text=lred}]
\addplot[rpts] coordinates {(0.1,1.26) (-0.1,1.255) (0.25,1.25) (-0.25,1.245) (0,1.24) (0.15,1.235) (-0.15,1.23) (0.3,1.225) (-0.3,1.215) (0,1.21) (0.15,1.20) (-0.15,1.19) (0.05,1.18) (-0.3,1.165) (0.3,1.165) (-0.1,1.155) (0.1,1.15) (-0.35,1.14) (0.35,1.14) (0,1.135) (-0.2,1.13) (0.2,1.125) (-0.35,1.115) (0.35,1.11) (0,1.11) (-0.15,1.10) (0.15,1.095) (-0.3,1.085) (0.3,1.08) (0,1.075) (-0.15,1.065) (0.15,1.06) (-0.25,1.05) (0.25,1.045) (0,1.04) (0.35,1.05)};
\addlegendentry{GluCreGCaMP6f/Sst\textsuperscript{-/-}}
\addplot[rpts, forget plot] coordinates {(1,1.21) (0.9,1.19) (1.15,1.18) (0.95,1.17) (1.2,1.16) (0.8,1.155) (1.05,1.15) (0.7,1.14) (1.3,1.135) (1,1.13) (0.85,1.12) (1.15,1.115) (0.65,1.11) (1.35,1.105) (1,1.10) (0.8,1.095) (1.2,1.09) (0.6,1.085) (1.4,1.08) (1,1.08) (0.75,1.075) (1.25,1.07) (0.9,1.065) (1.1,1.06) (0.65,1.055) (1.35,1.05) (1,1.05) (0.8,1.045) (1.2,1.04) (0.65,1.035) (1.35,1.035) (1,1.03) (0.85,1.03) (1.15,1.03)};
\addplot[rpts, forget plot] coordinates {(2,1.455) (2.15,1.375) (1.95,1.365) (2.1,1.32) (1.9,1.30) (2.05,1.29) (1.85,1.265) (2.15,1.26) (2,1.25) (1.8,1.24) (2.2,1.235) (1.95,1.225) (2.25,1.215) (1.75,1.21) (2.05,1.20) (1.85,1.195) (2.2,1.19) (1.7,1.18) (2.3,1.175) (2,1.17) (1.8,1.16) (2.2,1.155) (1.65,1.145) (2.35,1.14) (2,1.14) (1.85,1.13) (2.15,1.125) (1.7,1.115) (2.3,1.11) (2,1.10) (1.8,1.09) (2.2,1.085) (2,1.07) (1.85,1.06) (2.15,1.05) (2,1.025)};
\addplot[rpts, forget plot] coordinates {(3,1.17) (2.95,1.11) (3.1,1.105) (2.85,1.10) (3.2,1.095) (3,1.09) (2.75,1.085) (3.25,1.08) (2.9,1.075) (3.1,1.075) (2.65,1.07) (3.35,1.07) (3,1.065) (2.8,1.065) (3.2,1.06) (2.6,1.06) (3.4,1.055) (2.9,1.055) (3.1,1.05) (2.7,1.05) (3.3,1.045) (3,1.045) (2.8,1.04) (3.2,1.04) (2.65,1.035) (3.35,1.035) (3,1.035) (2.9,1.03) (3.1,1.03) (3,1.025)};
\addplot[meanl] coordinates {(-0.35,1.145) (0.35,1.145)};
\addplot[seml] coordinates {(0,1.135) (0,1.155)};
\addplot[meanl] coordinates {(0.65,1.092) (1.35,1.092)};
\addplot[seml] coordinates {(1,1.084) (1,1.1)};
\addplot[meanl] coordinates {(1.65,1.195) (2.35,1.195)};
\addplot[seml] coordinates {(2,1.18) (2,1.21)};
\addplot[meanl] coordinates {(2.65,1.06) (3.35,1.06)};
\addplot[seml] coordinates {(3,1.055) (3,1.065)};
\end{axis}
\begin{scope}[shift={(644.9pt,-515pt)}, x=25.66pt, y=1pt]
 \draw[brk] (0,-5) -- (0,-1.7) -- (0.97,-1.7) -- (0.97,-5);
 \draw[brk] (1.03,-5) -- (1.03,-1.7) -- (1.97,-1.7) -- (1.97,-5);
 \draw[brk] (2.03,-5) -- (2.03,-1.7) -- (3,-1.7) -- (3,-5);
 \node[st] at (0.5,-1.7) {***};
 \node[st] at (1.5,-1.7) {****};
 \node[st] at (2.5,-1.7) {****};
\end{scope}

% ---------------- M ----------------
\begin{axis}[trace, at={(25.3pt,-881.7pt)}, width=209.7pt, height=140pt,
 xmin=0, xmax=85, ymin=1.028, ymax=1.351, xtick={0,10,...,80}, ytick={1.1,1.2,1.3},
 legend style={at={(1,0.884)}, anchor=east, text=lred}]
\addplot[trr] table[x expr=\coordindex*0.5, y index=0, header=false, row sep=\\]{
1.15\\1.28\\1.16\\1.24\\1.14\\1.26\\1.17\\1.22\\1.15\\1.25\\
1.16\\1.21\\1.14\\1.24\\1.17\\1.22\\1.15\\1.25\\1.17\\1.26\\
1.18\\1.15\\1.10\\1.08\\1.08\\1.09\\1.11\\1.13\\1.15\\1.13\\
1.16\\1.14\\1.19\\1.13\\1.16\\1.12\\1.17\\1.13\\1.18\\1.12\\
1.16\\1.14\\1.19\\1.13\\1.16\\1.12\\1.17\\1.13\\1.16\\1.12\\
1.13\\1.09\\1.08\\1.07\\1.07\\1.08\\1.07\\1.09\\1.08\\1.07\\
1.08\\1.07\\1.08\\1.07\\1.08\\1.07\\1.08\\1.07\\1.08\\1.07\\
1.08\\1.07\\1.08\\1.07\\1.08\\1.07\\1.08\\1.07\\1.08\\1.07\\
1.09\\1.11\\1.13\\1.11\\1.14\\1.10\\1.13\\1.11\\1.15\\1.11\\
1.14\\1.10\\1.13\\1.11\\1.14\\1.10\\1.12\\1.10\\1.13\\1.09\\
1.12\\1.10\\1.13\\1.09\\1.11\\1.10\\1.12\\1.09\\1.11\\1.09\\
1.10\\1.08\\1.09\\1.07\\1.06\\1.06\\1.05\\1.06\\1.055\\1.06\\
1.055\\1.06\\1.055\\1.06\\1.055\\1.06\\1.055\\1.06\\1.055\\1.06\\
1.055\\1.06\\1.055\\1.06\\1.055\\1.06\\1.055\\1.06\\1.055\\1.06\\
1.055\\1.07\\1.08\\1.09\\1.07\\1.06\\1.06\\1.065\\1.06\\1.065\\
1.06\\1.07\\1.06\\1.07\\1.06\\1.07\\1.06\\1.075\\1.06\\1.07\\
1.06\\1.075\\1.06\\1.07\\1.06\\1.075\\1.06\\1.07\\1.06\\1.075\\
1.06\\
};
\addlegendentry{GluCreGCaMP6f/Sst\textsuperscript{-/-}}
\end{axis}
\begin{scope}[shift={(25.3pt,-741.7pt)}, x=2.467pt, y=1pt]
 \foreach \t in {10,25,40,55,70} {\draw[dsh] (\t,-6.6) -- (\t,-140);}
 \draw[stim] (0,0) -- (10,0) -- (10,-6.6) -- (85,-6.6);
 \draw[stim, arr] (25,-6.6) -- (25,0) -- (70,0) -- (70,-6.6);
 \draw[stim, arr] (40,0) -- (40,6.7) -- (55,6.7) -- (55,0);
 \node[labs] at (6.6,5) {G7};
 \node[labs] at (17.4,-2.3) {G1};
 \node[labs] at (31.9,18.3) {SST-14};
 \node[labs] at (31.9,6) {1µM};
 \node[labs] at (47.2,24.3) {Tolb};
 \node[labs] at (47.2,13.3) {100µM};
 \node[wi] at (0.8,-11) {Whole Islets};
\end{scope}

% ---------------- N ----------------
\begin{axis}[swarm, at={(264pt,-881.7pt)}, width=93pt, height=138.4pt,
 xmin=-0.69, xmax=2.69, ymin=1.0, ymax=1.22,
 xtick={0,1,2}, xticklabels={G1,G1 SST-14 1µM,{G1 Tolb\\SST-14\\1µM}},
 ytick={1.00,1.05,1.10,1.15,1.20},
 yticklabel style={/pgf/number format/.cd, fixed, fixed zerofill, precision=2},
 legend style={at={(0.086,0.91)}, anchor=west, text=lred}]
\addplot[rpts] coordinates {(-0.05,1.172) (0.05,1.166) (0,1.158) (-0.1,1.148) (0.1,1.147) (0,1.128) (-0.3,1.121) (-0.1,1.124) (0.1,1.122) (0.3,1.118) (-0.2,1.115) (0.2,1.113) (-0.4,1.108) (0,1.108) (0.4,1.105) (-0.2,1.102) (0.2,1.100) (-0.35,1.090) (0.1,1.090) (-0.1,1.085) (0.3,1.083) (-0.4,1.073) (0.4,1.073) (-0.2,1.068) (0.2,1.068) (0,1.062) (-0.3,1.052) (0.1,1.050) (0,1.045) (-0.15,1.040) (0.15,1.040) (0,1.033)};
\addlegendentry{GluCreGCaMP6f/Sst\textsuperscript{-/-}}
\addplot[rpts, forget plot] coordinates {(1,1.138) (1,1.125) (1,1.112) (0.65,1.098) (0.9,1.100) (1.3,1.095) (0.8,1.088) (1.1,1.090) (0.6,1.082) (1.4,1.080) (1,1.078) (0.8,1.075) (1.2,1.075) (0.65,1.068) (1.35,1.070) (1,1.065) (0.8,1.062) (1.2,1.060) (0.6,1.055) (1.4,1.052) (1,1.050) (0.8,1.045) (1.2,1.043) (0.9,1.035) (1.15,1.032) (0.8,1.028) (1.05,1.025) (0.7,1.022) (1.3,1.022)};
\addplot[rpts, forget plot] coordinates {(1.95,1.183) (2.05,1.180) (1.9,1.175) (2.1,1.178) (1.85,1.160) (2.05,1.155) (2.2,1.148) (1.9,1.148) (2.1,1.140) (2,1.135) (2.15,1.128) (1.8,1.122) (2,1.120) (1.65,1.112) (2.35,1.110) (1.9,1.105) (2.15,1.100) (1.7,1.095) (2.3,1.092) (2,1.090) (1.8,1.085) (2.2,1.083) (1.6,1.075) (2.4,1.073) (1.9,1.070) (2.1,1.068) (1.7,1.065) (2.25,1.063) (2,1.060) (1.95,1.048) (2.05,1.043) (2,1.033)};
\addplot[meanl] coordinates {(-0.36,1.101) (0.36,1.101)};
\addplot[seml] coordinates {(0,1.095) (0,1.107)};
\addplot[meanl] coordinates {(0.64,1.068) (1.36,1.068)};
\addplot[seml] coordinates {(1,1.061) (1,1.075)};
\addplot[meanl] coordinates {(1.64,1.103) (2.36,1.103)};
\addplot[seml] coordinates {(2,1.095) (2,1.111)};
\end{axis}
\begin{scope}[shift={(283pt,-743.3pt)}, x=27.5pt, y=1pt]
 \draw[brk] (0,-5.4) -- (0,-2.7) -- (0.97,-2.7) -- (0.97,-5.4);
 \draw[brk] (1.03,-5.4) -- (1.03,-2.7) -- (2,-2.7) -- (2,-5.4);
 \node[st] at (0.5,-2.7) {****};
 \node[st] at (1.5,-2.7) {****};
\end{scope}

% ---------------- panel letters ----------------
\node[pl] at (3pt,-20.3pt) {A};
\node[pl] at (241pt,-20.3pt) {B};
\node[pl] at (371pt,-20.3pt) {C};
\node[pl] at (612pt,-20.3pt) {D};
\node[pl] at (3pt,-249pt) {E};
\node[pl] at (241pt,-248.5pt) {F};
\node[pl] at (370pt,-249.5pt) {G};
\node[pl] at (610pt,-250pt) {H};
\node[pl] at (3pt,-491pt) {I};
\node[pl] at (240pt,-496pt) {J};
\node[pl] at (370pt,-492pt) {K};
\node[pl] at (610pt,-497.5pt) {L};
\node[pl] at (3pt,-722pt) {M};
\node[pl] at (240pt,-725.5pt) {N};
\end{tikzpicture}
\end{document}
